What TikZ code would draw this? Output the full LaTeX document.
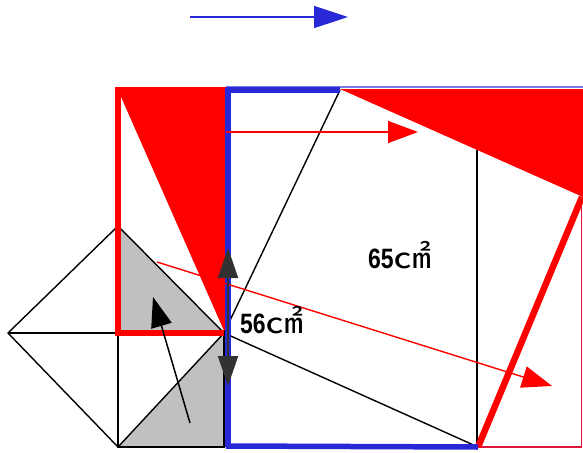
\documentclass[tikz,border=0pt]{standalone}
\usepackage{fontspec}
\usepackage{graphicx}
\setmainfont{Liberation Sans}
\newfontfamily\cjk{Noto Sans CJK JP}
\usetikzlibrary{arrows.meta}
\definecolor{fillred}{RGB}{255,0,0}
\definecolor{edgeblue}{RGB}{40,40,215}
\definecolor{lightblue}{RGB}{120,120,240}
\definecolor{fillgray}{RGB}{192,192,192}
\definecolor{darkarrow}{RGB}{50,50,50}
\definecolor{edgepink}{RGB}{225,20,60}
\newcommand{\sqcm}{\scalebox{1}[0.82]{\fontsize{38pt}{38pt}\cjk ㎠}}
\newcommand{\areanum}[1]{\scalebox{0.82}[1]{\fontsize{28pt}{28pt}\selectfont\bfseries #1}}
\tikzset{
  thinline/.style={draw=black, line width=1.4pt},
  thickred/.style={draw=fillred, line width=6.5pt},
  thickblue/.style={draw=edgeblue, line width=5.5pt},
  redarrow/.style={draw=fillred, line width=1.4pt, -{Triangle[length=30pt,width=22pt]}},
  bluearrow/.style={draw=edgeblue, line width=1.5pt, -{Triangle[length=34pt,width=22pt]}},
  blackarrow/.style={draw=black, line width=1.5pt, -{Triangle[length=30pt,width=21pt]}},
  darkdouble/.style={draw=darkarrow, line width=2pt, {Triangle[length=30pt,width=20pt]}-{Triangle[length=30pt,width=20pt]}},
  area/.style={inner sep=0pt, anchor=base west}
}
\begin{document}
\begin{tikzpicture}[x=1pt,y=-1pt]
\useasboundingbox (0,0) rectangle (583,452);
% points
\coordinate (A) at (118,90);
\coordinate (Bt) at (225,90);
\coordinate (P) at (224,333);
\coordinate (Q) at (340,90);
\coordinate (R) at (582,197);
\coordinate (S) at (478,447);
\coordinate (TR) at (583,89);
\coordinate (RR) at (583,197);
\coordinate (T) at (118,226);
\coordinate (L) at (8,333);
\coordinate (Bm) at (118,447);
\coordinate (M) at (118,333);
\coordinate (Pb) at (224,447);
\coordinate (V1) at (477,150);
\coordinate (V2) at (477,447);
% fills
\fill[fillgray] (T) -- (M) -- (P) -- cycle;
\fill[fillgray] (Bm) -- (P) -- (Pb) -- cycle;
\fill[fillred] (A) -- (Bt) -- (225,333) -- cycle;
\fill[fillred] (340,89) -- (TR) -- (RR) -- cycle;
% thin blue top edge
\draw[lightblue, line width=2pt] (226,87) -- (583,87);
% black thin lines
\draw[thinline] (T) -- (L) -- (Bm) -- (P) -- cycle;
\draw[thinline] (L) -- (M) -- (Bm) -- (Pb) -- (P);
\draw[thinline] (P) -- (Q);
\draw[thinline] (P) -- (S);
\draw[thinline] (V1) -- (V2);
% pink right and bottom edges
\draw[edgepink, line width=1.5pt] (S) -- (581.5,447) -- (581.5,197);
% red thick lines
\draw[thickred, line cap=rect] (M) -- (A) -- (Bt);
\draw[thickred] (M) -- (P);
\draw[thickred] (S) -- (R);
% blue thick edges
\draw[thickblue] (228,87.5) -- (228,447);
\draw[thickblue] (226,90) -- (Q);
\draw[thickblue] (226,446) -- (S);
% arrows
\coordinate (b1) at (190,17);
\coordinate (b2) at (348,17);
\draw[bluearrow] (b1) -- (b2);
\coordinate (r1) at (226,132);
\coordinate (r2) at (418,132);
\draw[redarrow] (r1) -- (r2);
\coordinate (r3) at (157,262);
\coordinate (r4) at (552,386);
\draw[redarrow] (r3) -- (r4);
\coordinate (k1) at (190,423);
\coordinate (k2) at (153,297);
\draw[blackarrow] (k1) -- (k2);
\coordinate (d1) at (228,248);
\coordinate (d2) at (228,386);
\draw[darkdouble] (d1) -- (d2);
% labels
\node[area] (t65) at (368,268) {\areanum{65}\sqcm};
\node[area] (t56) at (240,333) {\areanum{56}\sqcm};
\end{tikzpicture}
\end{document}
